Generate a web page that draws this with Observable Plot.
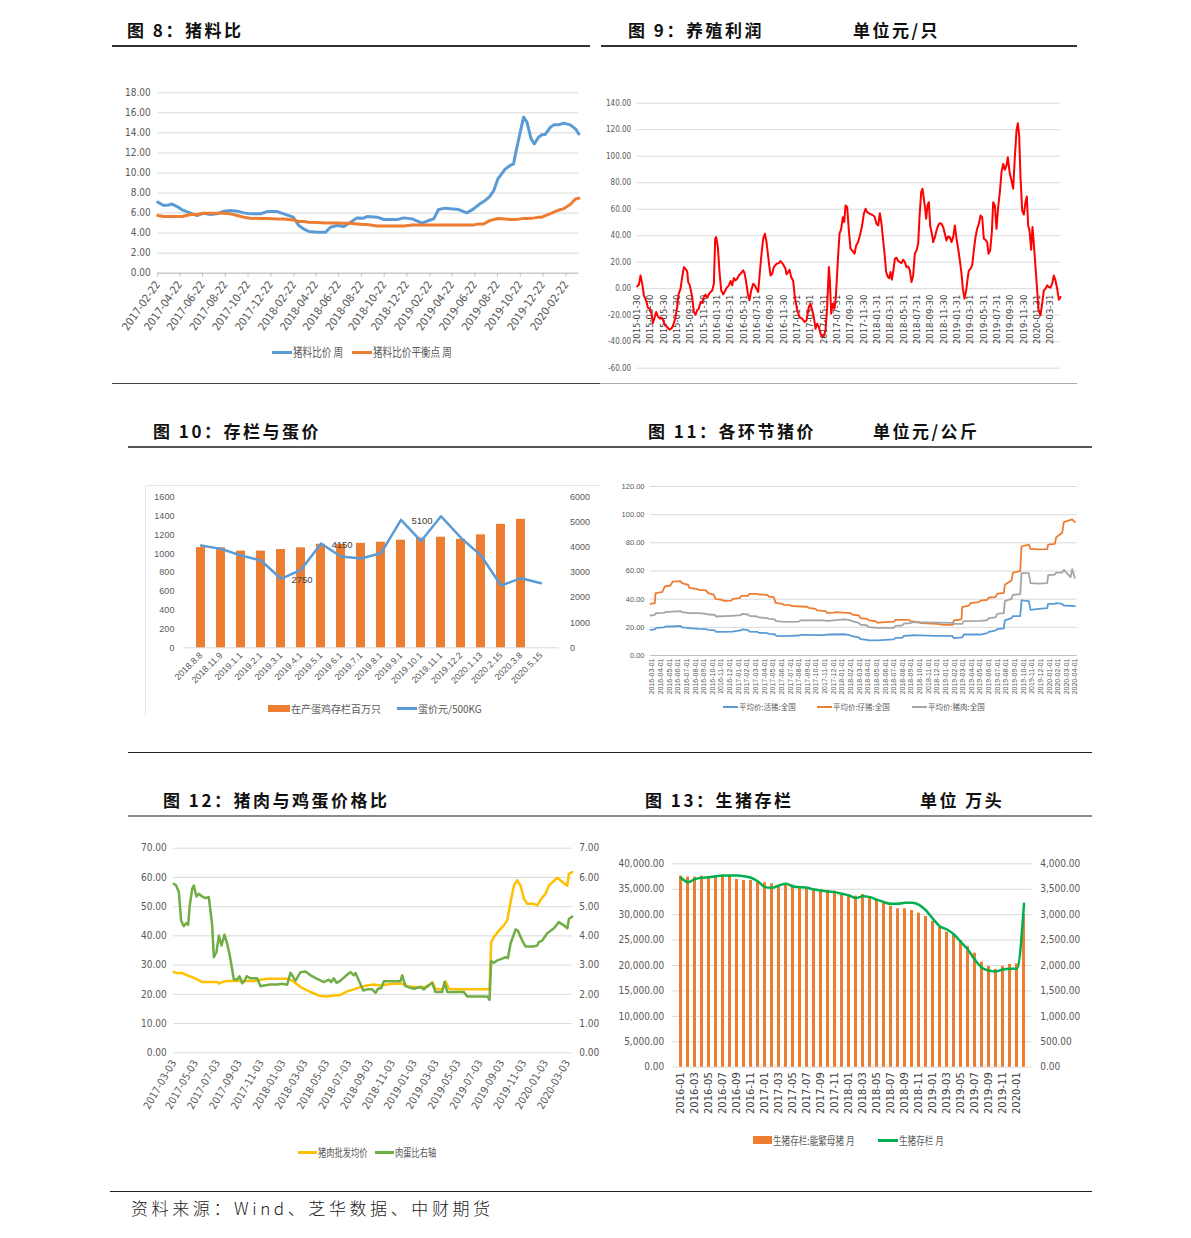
<!DOCTYPE html>
<html><head><meta charset="utf-8">
<script src="https://cdn.jsdelivr.net/npm/d3@7"></script>
<script src="https://cdn.jsdelivr.net/npm/@observablehq/plot@0.6"></script>
<style>
body{margin:0;background:#fff;}
#page{position:relative;width:1191px;height:1238px;overflow:hidden;background:#fff;font-family:"Noto Sans CJK SC",sans-serif;}
</style></head>
<body><div id="page"></div>
<script>
// ---------- 图8 猪料比 ----------
const pfDates = ["2017-02-22","2017-03-10","2017-03-23","2017-04-01","2017-04-15","2017-04-28","2017-05-21","2017-06-07","2017-06-25","2017-07-13","2017-07-31","2017-08-18","2017-09-05","2017-09-23","2017-10-11","2017-10-28","2017-11-24","2017-12-12","2018-01-08","2018-01-26","2018-02-20","2018-03-07","2018-03-20","2018-04-03","2018-04-25","2018-05-18","2018-05-31","2018-06-18","2018-07-06","2018-07-24","2018-08-10","2018-08-28","2018-09-06","2018-10-03","2018-10-21","2018-11-26","2018-12-14","2019-01-05","2019-02-01","2019-02-19","2019-03-04","2019-03-17","2019-04-04","2019-04-18","2019-05-10","2019-06-01","2019-06-19","2019-07-03","2019-07-16","2019-08-01","2019-08-12","2019-08-23","2019-09-12","2019-09-25","2019-10-04","2019-10-13","2019-10-22","2019-10-31","2019-11-09","2019-11-20","2019-11-29","2019-12-10","2019-12-19","2019-12-28","2020-01-11","2020-01-20","2020-02-02","2020-02-15","2020-03-04","2020-03-18","2020-03-27"];
const pfRatio = [7.09,6.75,6.8,6.9,6.65,6.32,5.99,5.75,5.99,5.85,5.92,6.19,6.25,6.19,6.02,5.92,5.92,6.15,6.15,5.92,5.59,4.76,4.42,4.16,4.09,4.09,4.59,4.76,4.66,5.09,5.52,5.49,5.66,5.59,5.36,5.36,5.52,5.42,4.99,5.26,5.42,6.35,6.49,6.42,6.35,6.02,6.42,6.85,7.15,7.65,8.25,9.41,10.41,10.75,10.91,12.57,14.07,15.57,15.07,13.41,12.91,13.57,13.81,13.84,14.57,14.8,14.8,14.97,14.8,14.4,13.9];
const pfBreakeven = [5.75,5.66,5.66,5.66,5.66,5.66,5.85,5.85,5.99,5.99,5.99,5.99,5.92,5.75,5.59,5.49,5.45,5.45,5.42,5.4,5.32,5.16,5.16,5.09,5.05,5.02,5.02,5.02,4.99,4.99,4.92,4.86,4.86,4.72,4.72,4.72,4.72,4.82,4.82,4.82,4.82,4.82,4.82,4.82,4.82,4.82,4.82,4.92,4.92,5.25,5.35,5.46,5.4,5.35,5.35,5.37,5.42,5.46,5.46,5.49,5.52,5.59,5.59,5.75,5.95,6.1,6.3,6.42,6.85,7.4,7.48];
const pfTicks = ["2017-02-22","2017-04-22","2017-06-22","2017-08-22","2017-10-22","2017-12-22","2018-02-22","2018-04-22","2018-06-22","2018-08-22","2018-10-22","2018-12-22","2019-02-22","2019-04-22","2019-06-22","2019-08-22","2019-10-22","2019-12-22","2020-02-22"];
const pfYTicks = [0,2,4,6,8,10,12,14,16,18];

// ---------- 图9 养殖利润 (x = months since 2015-01-30) ----------
const profitMonth = [0,0.25,0.5,0.75,1,1.4,1.6,1.9,2.15,2.35,2.6,2.85,3.1,3.4,3.7,3.9,4.15,4.5,4.85,5.15,5.4,5.7,6,6.2,6.5,6.75,7,7.25,7.5,7.65,7.9,8.25,8.5,8.75,9,9.25,9.5,9.75,10,10.25,10.5,10.75,11,11.25,11.5,11.7,11.85,12.1,12.35,12.6,12.9,13.1,13.4,13.75,14,14.25,14.5,14.75,15,15.25,15.6,15.9,16.1,16.35,16.6,16.85,17.1,17.4,17.65,17.9,18.15,18.4,18.65,18.9,19.15,19.4,19.6,19.8,20,20.25,20.5,20.9,21.25,21.5,21.9,22.25,22.4,22.65,22.85,23.1,23.4,23.65,24,24.35,24.75,25.1,25.4,25.75,26,26.25,26.5,26.75,27,27.25,27.5,27.75,28,28.25,28.5,28.75,28.9,29.1,29.35,29.6,29.8,30.1,30.35,30.6,30.85,31.05,31.25,31.5,31.75,32,32.25,32.6,32.85,33.15,33.4,33.7,34,34.25,34.5,34.9,35.25,35.6,35.9,36.15,36.4,36.65,36.9,37.15,37.35,37.6,37.8,38,38.2,38.4,38.65,38.9,39.15,39.4,39.65,39.9,40.15,40.4,40.65,40.9,41.15,41.4,41.65,41.9,42.15,42.35,42.6,42.8,43,43.2,43.35,43.55,43.75,43.95,44.2,44.4,44.65,44.9,45.15,45.4,45.65,45.9,46.15,46.4,46.65,46.9,47.15,47.4,47.65,47.9,48.15,48.4,48.65,48.85,49.1,49.35,49.6,49.75,50,50.25,50.5,50.75,51,51.25,51.5,51.75,52,52.25,52.5,52.7,52.95,53.2,53.4,53.65,53.9,54.15,54.4,54.65,54.9,55.15,55.4,55.6,55.9,56.15,56.4,56.65,56.9,57.1,57.3,57.5,57.75,58,58.25,58.45,58.65,58.85,59.1,59.3,59.5,59.75,60,60.2,60.5,60.75,61,61.25,61.5,61.75,62,62.25,62.5,62.75,63,63.25,63.5];
const profitValue = [1.8,3,10,3.8,-5,-10,-14.3,-15,-18.8,-25.9,-22,-17.6,-20.9,-22.6,-22,-23.9,-27.6,-28.9,-30.9,-30,-27.6,-22.6,-13.8,-4.3,0,8.8,16.3,15,13,5,2.5,-6.3,-17.6,-19.6,-16.3,-15,-10,-10.8,-6.3,-4.5,-6.8,-4.3,-2.5,-1.3,3.8,37.7,38.9,31.4,12.6,-1.3,-4.3,-2.5,0.5,2.5,5.8,2.5,8,6.3,7.5,10,11.8,13.8,11.8,5,-3.8,-8.8,-1.3,3.8,2.5,0,-2.5,12.6,26.4,37.7,41.5,35.2,26.4,17.6,10,11.3,16.3,18.8,19.3,20.9,18.3,15,10.8,12.6,14.3,8.8,5.8,-6.3,-16.3,-21.4,-22.6,-25.1,-23.9,-13.8,-11.3,-16.3,-21.4,-30.2,-26.4,-28.9,-33.9,-35.9,-35.9,-30.9,-13.8,16.3,6.3,-18.8,-11.3,-15,-6.3,21.4,41.5,45.2,54,50.3,62.8,61.6,44,30.2,28.9,26.4,32.7,35.2,40.2,46.5,56.5,60.3,57.8,56.5,55.8,54.5,49,47.7,57,49,36.4,23.9,12.6,8.8,8,12.6,6.8,12.6,22.6,23.4,20.9,20.1,19.3,21.9,20.1,16.3,16.8,13.8,5,10,26.4,28.9,33.9,54,72.9,75.4,67.8,60.3,52.8,62.8,65.3,47.7,41.5,35.2,38.9,44,47.7,49.5,49,46.5,41.5,36.4,39.4,38.9,35.2,38.9,47.7,37.7,30.2,21.4,11.3,0,-7.5,-1.3,8.8,13.8,15,17.6,28.9,38.9,45.2,49,55.3,54,37.7,36.9,35.2,26.4,28.9,42.7,65.3,62.8,45.2,61.6,72.9,87.9,94.2,89.7,93,99.2,86.7,81.7,75.4,99.2,119.3,124.9,115.6,84.2,59,56,65.3,69.6,47.7,44,29.4,46.5,33.9,16.3,-1.3,-16.3,-20.1,-11.3,-1.3,0,2.5,1.3,0.8,3.8,10,6.3,0,-8.3,-6.3];
const profitTicks = ["2015-01-30","2015-03-30","2015-05-30","2015-07-30","2015-09-30","2015-11-30","2016-01-31","2016-03-31","2016-05-31","2016-07-31","2016-09-30","2016-11-30","2017-01-31","2017-03-31","2017-05-31","2017-07-31","2017-09-30","2017-11-30","2018-01-31","2018-03-31","2018-05-31","2018-07-31","2018-09-30","2018-11-30","2019-01-31","2019-03-31","2019-05-31","2019-07-31","2019-09-30","2019-11-30","2020-01-31","2020-03-31"];
const profitYTicks = [-60,-40,-20,0,20,40,60,80,100,120,140];

// ---------- 图10 存栏与蛋价 ----------
const eggCats = ["2018.8.8","2018.11.9","2019.1.1","2019.2.1","2019.3.1","2019.4.1","2019.5.1","2019.6.1","2019.7.1","2019.8.1","2019.9.1","2019.10.1","2019.11.1","2019.12.2","2020.1.13","2020.2.15","2020.3.8","2020.5.15"];
const eggStock = [1065,1062,1027,1027,1044,1062,1100,1100,1110,1122,1143,1165,1175,1152,1200,1312,1365,null];
const eggPrice = [4075,3941,3676,3477,2750,3105,4150,3636,3556,3769,5100,4246,5242,4379,3676,2481,2773,2574];
const eggLabelCats = ["2019.3.1","2019.5.1","2019.9.1"];
const eggLabelText = ["2750","4150","5100"];
const eggLeftTicks = [0,200,400,600,800,1000,1200,1400,1600];
const eggRightTicks = [0,1000,2000,3000,4000,5000,6000];

// ---------- 图11 各环节猪价 (x = months since 2016-03-01) ----------
const hogLiveX = [-0.19,0.31,0.46,1.35,1.54,2.39,3.28,3.47,4.32,5.41,6.25,6.49,7.26,7.41,8.3,9.27,10.23,10.42,11.12,11.27,12.16,12.36,13.32,13.51,14.21,14.36,15.06,16.02,16.99,17.18,19.69,20.46,22.2,22.78,23.17,23.94,24.13,24.9,25.1,26.06,27.03,27.99,28.19,28.96,29.15,29.92,30.12,32.82,34.75,34.94,35.91,36.1,38.03,38.8,39,39.77,39.96,40.73,40.85,41.62,41.78,42.63,42.78,43.63,43.82,44.79,45.75,45.87,46.64,46.8,47.49,47.68,48.96];
const hogLive = [18.2,18.5,19.6,19.9,20.6,20.6,21.1,19.9,19.4,18.9,18.7,18.2,17.8,16.8,16.8,17,17.8,18.5,18,17,16.8,16.1,15.9,15.4,15.1,14,13.7,14,14.2,14.7,14.4,14.9,15.1,14.7,13.7,12.8,11.6,11.1,10.7,10.7,11.1,11.4,12.5,12.5,14,14.2,14.4,14,14,12.3,12.8,14.9,14.9,15.9,16.8,17.8,18.7,19.2,24.9,26.5,27.9,27.9,39.1,38.6,32.4,33.1,33.6,36.7,36.7,37.2,36.7,35.5,35];
const pigletX = [-0.19,0.31,0.39,1.16,1.47,2.12,2.39,3.28,3.47,4.17,4.32,5.21,5.41,6.25,6.49,7.14,7.34,8.11,8.3,9.19,9.34,10.12,10.35,11.12,11.27,12.16,12.36,13.32,13.51,14.09,14.29,15.06,15.25,16.02,16.22,17.95,18.15,18.92,19.11,20.08,20.27,21.04,21.24,22.97,23.17,23.94,24.13,24.9,25.1,25.87,26.06,27.03,27.99,28.19,29.73,29.92,30.89,31.08,33.01,33.78,34.83,34.94,35.83,35.91,36.68,36.87,37.84,38.03,38.8,39,39.77,39.96,40.73,40.85,41.62,41.78,42.63,42.78,43.63,43.82,44.79,45.75,45.87,46.64,46.8,47.49,47.68,48.65,48.96];
const piglet = [36.7,37.2,44.3,45,49,49.7,52.5,52.8,51.4,50.2,48,47.1,46.6,46.2,44.3,43.3,40.2,39.5,38.8,39,40.2,40.7,42.4,42.4,43.8,43.8,43.3,43.1,41.9,41.4,37.4,36.7,36,35.7,35,34.6,33.8,33.1,32,31.5,30.3,30.5,30.8,30.1,29.1,28.4,26.5,26,24.9,24.4,23.4,23.7,24.1,25.3,25.3,24.4,23.7,23,22.5,21.8,21.8,24.9,25.6,34.3,35.5,37.2,37.9,39,39.5,41.2,41.4,43.8,44.5,50.2,53.3,58.9,59.9,77.4,78.8,75.7,75.3,75.5,78.8,79.3,84,87.1,94.7,96.6,94.7];
const porkX = [-0.19,0.31,0.46,1.35,1.54,2.39,3.28,3.47,4.32,5.41,6.25,6.49,7.26,7.41,8.3,9.27,10.23,10.42,11.12,11.27,12.16,12.36,13.32,13.51,14.21,14.36,15.06,16.02,16.99,17.18,19.69,20.46,21.24,22.2,22.78,23.17,23.94,24.13,24.9,25.1,26.06,27.99,28.19,28.96,29.15,29.92,30.12,34.75,34.94,35.91,36.1,38.03,38.8,39,39.77,39.96,40.73,40.85,41.62,41.78,42.63,42.78,43.63,43.82,44.79,45.75,45.87,46.64,46.8,47.49,47.68,48.46,48.65,48.96];
const pork = [28.4,28.9,30.1,30.3,30.8,31.2,31.5,30.8,30.1,30.1,29.6,29.1,28.9,27.7,27.9,28.2,28.6,29.6,29.1,28.2,27.7,27,26.5,26,25.6,24.4,24.1,23.9,24.1,24.9,24.9,24.6,25.1,25.6,25.3,24.4,23.2,22,21.3,20.1,19.6,19.6,21.1,21.3,22.7,23,23.7,23.2,22.5,22.5,24.4,24.6,25.1,26.5,27,29.6,30.1,38.6,40.2,43.1,43.6,58.5,58.5,51.4,51.1,51.4,57,57.5,58.9,58.9,60.8,55.6,61.3,55.1];
const hogMonthTicks = ["2016-03-01","2016-04-01","2016-05-01","2016-06-01","2016-07-01","2016-08-01","2016-09-01","2016-10-01","2016-11-01","2016-12-01","2017-01-01","2017-02-01","2017-03-01","2017-04-01","2017-05-01","2017-06-01","2017-07-01","2017-08-01","2017-09-01","2017-10-01","2017-11-01","2017-12-01","2018-01-01","2018-02-01","2018-03-01","2018-04-01","2018-05-01","2018-06-01","2018-07-01","2018-08-01","2018-09-01","2018-10-01","2018-11-01","2018-12-01","2019-01-01","2019-02-01","2019-03-01","2019-04-01","2019-05-01","2019-06-01","2019-07-01","2019-08-01","2019-09-01","2019-10-01","2019-11-01","2019-12-01","2020-01-01","2020-02-01","2020-03-01","2020-04-01"];
const hogYTicks = [0,20,40,60,80,100,120];

// ---------- 图12 猪肉与鸡蛋价格比 (x = months since 2017-03-03) ----------
const porkWholesaleX = [0,0.3,0.76,1.22,1.68,2.13,2.59,3.05,3.96,4.12,4.42,4.88,5.34,6.1,7.32,7.93,8.54,9.45,10.37,10.82,11.59,12.5,13.41,14.02,14.63,15.24,15.85,16.46,17.07,17.68,18.29,18.9,19.51,20.12,20.88,21.34,21.95,22.56,23.17,23.63,23.93,24.54,24.85,25.15,25.61,27.13,28.87,29.02,29.27,29.73,30.18,30.49,30.79,31.1,31.4,31.71,32.01,32.32,32.93,33.23,33.69,33.99,34.3,35.06,35.67,35.98,36.13,36.43];
const porkWholesale = [27.6,27.3,27.3,26.5,25.9,25.1,24.2,24.2,24.2,23.7,24.2,24.6,24.6,24.6,24.6,25,25.3,25.3,25.3,24.7,22.5,20.8,19.4,19.3,19.6,19.8,21,21.7,22.5,23,23.4,23,23.4,23.6,23.6,22.8,22.5,22.5,22.5,24.2,21.9,21.7,24.4,21.9,21.7,21.7,21.7,37.9,39.6,41.8,43.6,45.3,51.5,57.2,59,57.2,52.7,51,51,50.4,53.2,54.4,57.2,59.9,58,57.2,61.2,61.8];
const meatEggX = [0,0.21,0.46,0.67,0.91,1.13,1.31,1.46,1.68,1.83,2.07,2.29,2.59,2.9,3.2,3.51,3.66,3.9,4.12,4.36,4.63,4.88,5.12,5.49,5.79,6.01,6.25,6.46,6.65,7.01,7.62,7.93,8.23,8.84,9.45,9.91,10.37,10.67,10.82,11.13,11.59,12.04,12.5,13.11,13.72,14.18,14.39,14.63,14.88,15.24,15.85,16.16,16.46,16.62,16.92,17.32,17.68,18.14,18.45,18.66,18.96,19.21,19.51,20.73,20.88,21.19,21.65,21.95,22.56,22.87,23.17,23.63,23.93,24.54,24.76,25,25.61,26.52,26.83,28.66,28.87,29.02,29.27,29.57,30.03,30.34,30.55,30.79,31.25,31.46,31.86,32.16,32.93,33.23,33.38,33.69,34.15,34.76,35.21,35.67,35.98,36.13,36.43];
const meatEgg = [5.78,5.72,5.5,4.53,4.33,4.43,4.38,5.04,5.61,5.72,5.35,5.44,5.35,5.29,5.33,4.36,3.27,3.44,4.01,3.67,4.04,3.73,3.33,2.51,2.51,2.62,2.38,2.45,2.62,2.55,2.55,2.28,2.3,2.34,2.34,2.36,2.33,2.74,2.65,2.47,2.76,2.78,2.65,2.53,2.42,2.5,2.42,2.55,2.39,2.47,2.67,2.76,2.65,2.73,2.47,2.13,2.17,2.17,2.05,2.19,2.21,2.45,2.45,2.45,2.65,2.28,2.22,2.19,2.25,2.17,2.28,2.39,2.08,2.08,2.42,2.08,2.08,2.08,1.93,1.93,1.81,3.14,3.08,3.16,3.22,3.27,3.24,3.73,4.22,4.18,3.84,3.64,3.64,3.67,3.79,3.84,4.09,4.26,4.47,4.36,4.26,4.58,4.66];
const meatTicks = ["2017-03-03","2017-05-03","2017-07-03","2017-09-03","2017-11-03","2018-01-03","2018-03-03","2018-05-03","2018-07-03","2018-09-03","2018-11-03","2019-01-03","2019-03-03","2019-05-03","2019-07-03","2019-09-03","2019-11-03","2020-01-03","2020-03-03"];
const meatLeftTicks = [0,10,20,30,40,50,60,70];
const meatRightTicks = [0,1,2,3,4,5,6,7];

// ---------- 图13 生猪存栏 ----------
const sowMonths = ["2016-01","2016-02","2016-03","2016-04","2016-05","2016-06","2016-07","2016-08","2016-09","2016-10","2016-11","2016-12","2017-01","2017-02","2017-03","2017-04","2017-05","2017-06","2017-07","2017-08","2017-09","2017-10","2017-11","2017-12","2018-01","2018-02","2018-03","2018-04","2018-05","2018-06","2018-07","2018-08","2018-09","2018-10","2018-11","2018-12","2019-01","2019-02","2019-03","2019-04","2019-05","2019-06","2019-07","2019-08","2019-09","2019-10","2019-11","2019-12","2020-01","2020-02"];
const sowBars = [37574,37377,37377,37574,37500,37640,37640,37574,36918,36721,36721,36394,36262,36066,35738,35869,35800,35410,35279,35082,34951,34754,34623,34098,33902,33640,33967,33443,32787,32328,31672,31148,31148,30820,30296,29640,28656,27541,26558,25902,24918,23738,22426,20656,19804,19213,19804,20197,20328,30000];
const sowLine = [3725,3639,3698,3725,3738,3757,3770,3770,3770,3757,3725,3652,3541,3528,3574,3607,3554,3541,3528,3495,3475,3456,3443,3410,3377,3325,3364,3344,3292,3246,3213,3213,3233,3233,3193,3082,2918,2767,2708,2610,2459,2308,2112,1954,1902,1882,1921,1934,1934,3213];
const sowLeftTicks = [0,5000,10000,15000,20000,25000,30000,35000,40000];
const sowRightTicks = [0,500,1000,1500,2000,2500,3000,3500,4000];

// ---------- colours & fonts ----------
const BLUE = "#5B9BD5", ORANGE = "#ED7D31", GRAY = "#A5A5A5", YELLOW = "#FFC000", GREEN = "#70AD47", DGREEN = "#00B050", RED = "#FF0000";
const GRID = "#d9d9d9", TXT = "#595959";
const NARROW = '"Liberation Sans Narrow","DejaVu Sans Condensed","Arial Narrow",sans-serif';
const SANS = '"Liberation Sans","DejaVu Sans",sans-serif';
const CJK = '"Noto Sans CJK SC",sans-serif';

const page = document.getElementById("page");
function put(el, left, top) {
  el.style.position = "absolute"; el.style.left = left + "px"; el.style.top = top + "px";
  page.appendChild(el); return el;
}
function div(html, css) { const d = document.createElement("div"); d.innerHTML = html; d.style.cssText = css; page.appendChild(d); return d; }
function title(text, left, cy) { div(text, `position:absolute;left:${left}px;top:${cy - 10}px;font-size:17px;font-weight:700;letter-spacing:2.5px;white-space:nowrap;line-height:20px;color:#111;font-family:${CJK}`); }
function hrule(x1, x2, y, w, c) { div("", `position:absolute;left:${x1}px;top:${y - w / 2}px;width:${x2 - x1}px;height:${w}px;background:${c}`); }
function legend(items, cy, o) {
  for (const it of items) {
    div("", `position:absolute;left:${it.x}px;top:${cy - it.h / 2}px;width:${it.w}px;height:${it.h}px;background:${it.color}`);
    div(it.label, `position:absolute;left:${it.x + it.w + 1}px;top:${cy - o.size * 0.75}px;font-size:${o.size}px;font-family:${o.font};line-height:${o.size * 1.5}px;color:${TXT};white-space:nowrap;transform:scaleX(${o.sx || 1});transform-origin:left center`);
  }
}
const fmt2 = d => d.toFixed(2);
const fmtC2 = d3.format(",.2f");

// ---------- titles and rules ----------
title("图 8：猪料比", 127, 30);
title("图 9：养殖利润", 628, 30);
title("单位元/只", 853, 30);
hrule(112, 590, 46, 1.5, "#333");
hrule(601, 1077, 46, 1.5, "#333");
hrule(112, 600, 383, 1, "#444");
hrule(600, 1077, 383, 1, "#aaa");
title("图 10：存栏与蛋价", 153, 431);
title("图 11：各环节猪价", 648, 431);
title("单位元/公斤", 873, 431);
hrule(128, 1092, 447, 1.5, "#555");
hrule(128, 1092, 752, 1, "#222");
title("图 12：猪肉与鸡蛋价格比", 163, 800);
title("图 13：生猪存栏", 645, 800);
title("单位 万头", 920, 800);
hrule(128, 1092, 816, 2.5, "#8a8a8a");
hrule(110, 1092, 1191, 1, "#222");
div("资料来源：Wind、芝华数据、中财期货", `position:absolute;left:131px;top:1197px;font-size:17px;font-weight:300;letter-spacing:3.6px;white-space:nowrap;line-height:22px;color:#222;font-family:${CJK}`);
// light frame of figure 10
div("", "position:absolute;left:145px;top:485px;width:455px;height:230px;border-left:1px solid #e6e6e6;border-top:1px solid #e6e6e6");

// ---------- Chart 8 ----------
const pf = pfDates.map((d, i) => ({ date: new Date(d), ratio: pfRatio[i], breakeven: pfBreakeven[i] }));
put(Plot.plot({
  width: 500, height: 300, marginLeft: 57.3, marginRight: 21.7, marginTop: 12.3, marginBottom: 107.3,
  style: { fontFamily: NARROW, fontSize: "10px", color: TXT, background: "transparent", overflow: "visible" },
  x: { type: "utc", domain: [new Date(pfDates[0]), new Date(pfDates[pfDates.length - 1])], label: null },
  y: { domain: [0, 18], label: null },
  marks: [
    Plot.gridY(pfYTicks, { stroke: GRID, strokeOpacity: 1 }),
    Plot.axisY(pfYTicks, { label: null, tickSize: 0, tickPadding: 7, tickFormat: fmt2, fontSize: 10 }),
    Plot.ruleY([0], { stroke: "#bfbfbf" }),
    Plot.axisX(pfTicks.map(t => new Date(t)), { label: null, tickFormat: d3.utcFormat("%Y-%m-%d"), tickRotate: -55, tickSize: 4, tickPadding: 5, fontSize: 11, stroke: "#bfbfbf", fill: TXT }),
    Plot.line(pf, { x: "date", y: "ratio", stroke: BLUE, strokeWidth: 3 }),
    Plot.line(pf, { x: "date", y: "breakeven", stroke: ORANGE, strokeWidth: 3 })
  ]
}), 100, 80);
legend([
  { x: 272, w: 20, h: 3, color: BLUE, label: "猪料比价 周" },
  { x: 352, w: 20, h: 3, color: ORANGE, label: "猪料比价平衡点 周" }
], 352, { size: 12, font: CJK, sx: 0.8 });

// ---------- Chart 9 ----------
const profit = profitMonth.map((m, i) => ({ m, v: profitValue[i] }));
const profitTickData = profitTicks.map((t, i) => ({ t, m: i * 2 }));
put(Plot.plot({
  width: 480, height: 290, marginLeft: 36.7, marginRight: 20, marginTop: 12.7, marginBottom: 12.3,
  style: { fontFamily: NARROW, fontSize: "8px", color: TXT, background: "transparent", overflow: "visible" },
  x: { domain: [0, 63.5], axis: null },
  y: { domain: [-60, 140], label: null },
  marks: [
    Plot.gridY(profitYTicks, { stroke: GRID, strokeOpacity: 1 }),
    Plot.axisY(profitYTicks, { label: null, tickSize: 0, tickPadding: 6, tickFormat: fmt2, fontSize: 8 }),
    Plot.text(profitTickData, { x: "m", y: () => 0, text: "t", rotate: -90, textAnchor: "end", dy: 6, fontFamily: "DejaVu Sans", fontSize: 8.5, fill: "#404040" }),
    Plot.line(profit, { x: "m", y: "v", stroke: RED, strokeWidth: 2 })
  ]
}), 600, 90);

// ---------- Chart 10 ----------
const eggs = eggCats.map((c, i) => ({ c, stock: eggStock[i], price: eggPrice[i] }));
const eggK = 1600 / 6000;
const eggLabels = eggLabelCats.map((c, i) => ({ c, t: eggLabelText[i], v: eggPrice[eggCats.indexOf(c)] }));
put(Plot.plot({
  width: 460, height: 215, marginLeft: 42.9, marginRight: 41.4, marginTop: 16.7, marginBottom: 47.7,
  style: { fontFamily: SANS, fontSize: "9px", color: TXT, background: "transparent", overflow: "visible" },
  x: { type: "band", domain: eggCats, paddingInner: 0.57, paddingOuter: 0.285, label: null },
  y: { domain: [0, 1600], label: null },
  marks: [
    Plot.ruleY([0], { stroke: GRID }),
    Plot.barY(eggs.filter(d => d.stock != null), { x: "c", y: "stock", fill: ORANGE }),
    Plot.axisY(eggLeftTicks, { label: null, tickSize: 0, tickPadding: 9, fontSize: 9, tickFormat: d => String(d) }),
    Plot.axisY(eggRightTicks.map(v => v * eggK), { label: null, anchor: "right", tickSize: 0, tickPadding: 11, fontSize: 9, tickFormat: d => String(Math.round(d / eggK)) }),
    Plot.axisX({ label: null, tickRotate: -45, tickSize: 0, tickPadding: 6, fontSize: 9 }),
    Plot.line(eggs, { x: "c", y: d => d.price * eggK, stroke: BLUE, strokeWidth: 2.5 }),
    Plot.text(eggLabels, { x: "c", y: d => d.v * eggK, text: "t", dx: 21, dy: 1, fontSize: 9.5, fill: "#404040" })
  ]
}), 140, 480);
legend([
  { x: 268, w: 22, h: 7, color: ORANGE, label: "在产蛋鸡存栏百万只" },
  { x: 397, w: 20, h: 3, color: BLUE, label: "蛋价元/500KG" }
], 708, { size: 10, font: CJK });

// ---------- Chart 11 ----------
const hogSeries = [
  { x: hogLiveX, y: hogLive, color: BLUE },
  { x: pigletX, y: piglet, color: ORANGE },
  { x: porkX, y: pork, color: GRAY }
];
put(Plot.plot({
  width: 470, height: 230, marginLeft: 35, marginRight: 8.3, marginTop: 16, marginBottom: 45,
  style: { fontFamily: SANS, fontSize: "7.5px", color: TXT, background: "transparent", overflow: "visible" },
  x: { domain: [-0.19, 49.23], label: null },
  y: { domain: [0, 120], label: null },
  marks: [
    Plot.gridY(hogYTicks.filter(v => v > 0), { stroke: GRID, strokeOpacity: 1 }),
    Plot.ruleY([0], { stroke: "#bfbfbf" }),
    Plot.axisY(hogYTicks, { label: null, tickSize: 0, tickPadding: 6, tickFormat: fmt2, fontSize: 7.5 }),
    Plot.axisX(hogMonthTicks.map((t, i) => i), { label: null, tickFormat: i => hogMonthTicks[i], tickRotate: -90, tickSize: 0, tickPadding: 3, fontSize: 7 }),
    ...hogSeries.map(s => Plot.line(s.x.map((x, i) => ({ x, y: s.y[i] })), { x: "x", y: "y", stroke: s.color, strokeWidth: 1.8 }))
  ]
}), 615, 470);
legend([
  { x: 723, w: 15, h: 2, color: BLUE, label: "平均价:活猪:全国" },
  { x: 817, w: 15, h: 2, color: ORANGE, label: "平均价:仔猪:全国" },
  { x: 912, w: 15, h: 2, color: GRAY, label: "平均价:猪肉:全国" }
], 707, { size: 7.5, font: CJK });

// ---------- Chart 12 ----------
const meatK = 10;
put(Plot.plot({
  width: 480, height: 290, marginLeft: 53.3, marginRight: 28.3, marginTop: 12.7, marginBottom: 72.7,
  style: { fontFamily: NARROW, fontSize: "10px", color: TXT, background: "transparent", overflow: "visible" },
  x: { domain: [0, 36.43], label: null },
  y: { domain: [0, 70], label: null },
  marks: [
    Plot.gridY(meatLeftTicks, { stroke: GRID, strokeOpacity: 1 }),
    Plot.axisY(meatLeftTicks, { label: null, tickSize: 0, tickPadding: 7, tickFormat: fmt2, fontSize: 10 }),
    Plot.axisY(meatRightTicks.map(v => v * meatK), { label: null, anchor: "right", tickSize: 0, tickPadding: 7, tickFormat: d => (d / meatK).toFixed(2), fontSize: 10 }),
    Plot.axisX(meatTicks.map((t, i) => i * 2), { label: null, tickFormat: d => meatTicks[d / 2], tickRotate: -60, tickSize: 0, tickPadding: 8, fontSize: 10.5 }),
    Plot.line(porkWholesaleX.map((x, i) => ({ x, y: porkWholesale[i] })), { x: "x", y: "y", stroke: YELLOW, strokeWidth: 2.5 }),
    Plot.line(meatEggX.map((x, i) => ({ x, y: meatEgg[i] * meatK })), { x: "x", y: "y", stroke: GREEN, strokeWidth: 2.5 })
  ]
}), 120, 835);
legend([
  { x: 298, w: 19, h: 3, color: YELLOW, label: "猪肉批发均价" },
  { x: 375, w: 19, h: 3, color: GREEN, label: "肉蛋比右轴" }
], 1152, { size: 11, font: CJK, sx: 0.75 });

// ---------- Chart 13 ----------
const sow = sowMonths.map((m, i) => ({ m, bar: sowBars[i], line: sowLine[i] }));
const sowK = 10;
put(Plot.plot({
  width: 470, height: 285, marginLeft: 56.7, marginRight: 53.3, marginTop: 18.3, marginBottom: 63.3,
  style: { fontFamily: NARROW, fontSize: "10px", color: TXT, background: "transparent", overflow: "visible" },
  x: { type: "band", domain: sowMonths, paddingInner: 0.54, paddingOuter: 0.27, label: null },
  y: { domain: [0, 40000], label: null },
  marks: [
    Plot.gridY(sowLeftTicks, { stroke: GRID, strokeOpacity: 1 }),
    Plot.barY(sow, { x: "m", y: "bar", fill: ORANGE }),
    Plot.line(sow, { x: "m", y: d => d.line * sowK, stroke: DGREEN, strokeWidth: 2.5, curve: "monotone-x" }),
    Plot.axisY(sowLeftTicks, { label: null, tickSize: 0, tickPadding: 8, tickFormat: fmtC2, fontSize: 10 }),
    Plot.axisY(sowRightTicks.map(v => v * sowK), { label: null, anchor: "right", tickSize: 0, tickPadding: 8, tickFormat: d => fmtC2(d / sowK), fontSize: 10 }),
    Plot.axisX(sowMonths.filter((m, i) => i % 2 === 0), { label: null, tickRotate: -90, tickSize: 0, tickPadding: 5, fontSize: 10, fontFamily: "DejaVu Sans", fill: "#404040" })
  ]
}), 615, 845);
legend([
  { x: 753, w: 19, h: 8, color: ORANGE, label: "生猪存栏:能繁母猪 月" },
  { x: 878, w: 20, h: 3, color: DGREEN, label: "生猪存栏 月" }
], 1140, { size: 11, font: CJK, sx: 0.78 });
</script>
</body></html>
